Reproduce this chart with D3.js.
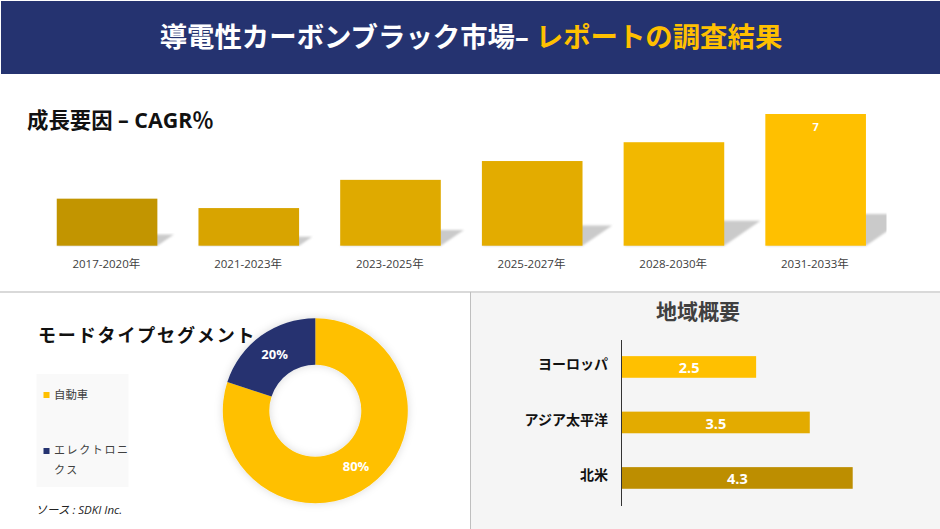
<!DOCTYPE html>
<html>
<head>
<meta charset="utf-8">
<script src="https://d3js.org/d3.v7.min.js"></script>
<style>
    body { margin: 0; background: #fff; overflow: hidden; }
    svg { display: block; }
    text { font-family: "Open Sans", "Noto Sans CJK JP", sans-serif; }
    .domain { shape-rendering: crispEdges; }
</style>
</head>
<body>
<svg id="canvas" width="940" height="529"></svg>
<script>
// top chart
const periods = ["2017-2020年", "2021-2023年", "2023-2025年", "2025-2027年", "2028-2030年", "2031-2033年"];
const cagr = [2.5, 2.0, 3.5, 4.5, 5.5, 7];
const cagrColors = ["#c29500", "#d8a400", "#dfaa00", "#e3ac00", "#f2b800", "#ffc000"];
const cagrLabels = ["", "", "", "", "", "7"];

// donut
const modes = ["自動車", "エレクトロニクス"];
const modeShare = [80, 20];
const modeColors = ["#ffc000", "#253370"];

// regions
const regions = ["ヨーロッパ", "アジア太平洋", "北米"];
const regionValues = [2.5, 3.5, 4.3];
const regionColors = ["#ffc000", "#e3ab00", "#bd8e00"];

var svg = d3.select("#canvas");
var defs = svg.append("defs");
defs.append("filter").attr("id", "soft").append("feGaussianBlur").attr("stdDeviation", 0.9);
defs.append("clipPath").attr("id", "topClip").append("rect")
    .attr("x", 0).attr("y", 80).attr("width", 886.5).attr("height", 200);
var glow = defs.append("filter").attr("id", "glow")
    .attr("x", "-15%").attr("y", "-15%").attr("width", "130%").attr("height", "130%");
glow.append("feDropShadow").attr("dx", 0).attr("dy", 0).attr("stdDeviation", 4)
    .attr("flood-color", "#000").attr("flood-opacity", 0.15);

// panels
svg.append("rect").attr("x", 471).attr("y", 292).attr("width", 469).attr("height", 237).attr("fill", "#f5f5f5");
svg.append("rect").attr("x", 0).attr("y", 291).attr("width", 940).attr("height", 2).attr("fill", "#d9d9d9");
svg.append("rect").attr("x", 470).attr("y", 292).attr("width", 1).attr("height", 237).attr("fill", "#bfbfbf");

// header
svg.append("rect").attr("x", 1).attr("y", 1).attr("width", 939).attr("height", 73).attr("fill", "#253370");
var head = svg.append("text").attr("x", 471).attr("y", 47)
    .attr("text-anchor", "middle").attr("font-size", 27.4).attr("font-weight", 700);
head.append("tspan").attr("fill", "#fff").text("導電性カーボンブラック市場– ");
head.append("tspan").attr("fill", "#ffc000").text("レポートの調査結果");

// growth bars
svg.append("text").attr("x", 27).attr("y", 128).attr("font-size", 21.4).attr("font-weight", 700)
    .attr("fill", "#111").text("成長要因 – CAGR％");

var x = d3.scaleBand().domain(periods).range([36.2, 886.5]).paddingInner(0.29).paddingOuter(0.145);
var y = d3.scaleLinear().domain([0, 7]).range([245.7, 114]);
var base = y(0);

function shadowPath(d, i) {
    var h = base - y(cagr[i]);
    var x0 = x(periods[i]);
    var x1 = x0 + x.bandwidth();
    var dx = h * 0.35;
    var dy = h * 0.24;
    return "M" + x0 + "," + base + "L" + x1 + "," + base +
        "L" + (x1 + dx) + "," + (base - dy) + "L" + (x0 + dx) + "," + (base - dy) + "Z";
}

svg.append("g").attr("clip-path", "url(#topClip)").selectAll("path").data(cagr).enter().append("path")
    .attr("d", shadowPath)
    .attr("fill", "#cacaca")
    .attr("filter", "url(#soft)");

svg.selectAll("rect.cagr").data(cagr).enter().append("rect")
    .attr("class", "cagr")
    .attr("x", function(d, i) { return x(periods[i]); })
    .attr("y", function(d) { return y(d); })
    .attr("width", x.bandwidth())
    .attr("height", function(d) { return base - y(d); })
    .attr("fill", function(d, i) { return cagrColors[i]; });

svg.selectAll("text.cagrLabel").data(cagr).enter().append("text")
    .attr("class", "cagrLabel")
    .attr("x", function(d, i) { return x(periods[i]) + x.bandwidth() / 2; })
    .attr("y", function(d) { return y(d) + 17; })
    .attr("text-anchor", "middle").attr("font-size", 11).attr("font-weight", 700).attr("fill", "#fff")
    .text(function(d, i) { return cagrLabels[i]; });

var xAxis = svg.append("g").attr("transform", "translate(-0.7," + base + ")")
    .call(d3.axisBottom(x).tickSize(0).tickPadding(12));
xAxis.select(".domain").remove();
xAxis.selectAll("text").attr("font-size", 11.5).attr("fill", "#404040").attr("dy", "0.88em")
    .style("font-family", '"Open Sans", "Noto Sans CJK JP", sans-serif');

// donut
var pie = d3.pie().sort(null)(modeShare);
var arc = d3.arc().innerRadius(46).outerRadius(92.5);
var donut = svg.append("g").attr("transform", "translate(315.3,410.7)");
donut.append("g").attr("filter", "url(#glow)").selectAll("path").data(pie).enter().append("path")
    .attr("d", arc)
    .attr("fill", function(d, i) { return modeColors[i]; });
donut.selectAll("text").data(pie).enter().append("text")
    .attr("transform", function(d) {
        var c = arc.centroid(d);
        return "translate(" + c[0] + "," + c[1] + ")";
    })
    .attr("dy", "0.35em").attr("text-anchor", "middle")
    .attr("font-size", 13).attr("font-weight", 700).attr("fill", "#fff")
    .text(function(d) { return d.data + "%"; });

svg.append("text").attr("x", 38).attr("y", 342).attr("font-size", 18).attr("font-weight", 700)
    .attr("letter-spacing", 1.85).attr("fill", "#111").text("モードタイプセグメント");

// legend
svg.append("rect").attr("x", 36.5).attr("y", 374).attr("width", 92).attr("height", 113).attr("fill", "#f9f9f9");
svg.append("rect").attr("x", 43.5).attr("y", 392).attr("width", 6).attr("height", 6).attr("fill", modeColors[0]);
svg.append("rect").attr("x", 43.5).attr("y", 448).attr("width", 6).attr("height", 6).attr("fill", modeColors[1]);
svg.append("text").attr("x", 54).attr("y", 399).attr("font-size", 11.4).attr("fill", "#404040").text(modes[0]);
svg.append("text").attr("x", 54).attr("y", 454).attr("font-size", 11).attr("letter-spacing", 1.6)
    .attr("fill", "#404040").text(modes[1].slice(0, 6));
svg.append("text").attr("x", 54).attr("y", 474).attr("font-size", 11).attr("letter-spacing", 1.6)
    .attr("fill", "#404040").text(modes[1].slice(6));

svg.append("text").attr("x", 35.5).attr("y", 514).attr("font-size", 11.5).attr("font-style", "italic")
    .attr("fill", "#222").text("ソース : SDKI Inc.");

// regions
svg.append("text").attr("x", 698).attr("y", 319).attr("text-anchor", "middle")
    .attr("font-size", 21).attr("font-weight", 700).attr("fill", "#404040").text("地域概要");

var rx = d3.scaleLinear().domain([0, 4.3]).range([622, 852.7]);
var ry = d3.scaleBand().domain(regions).range([339.2, 505.7]).paddingInner(0.61).paddingOuter(0.305);

svg.selectAll("rect.region").data(regionValues).enter().append("rect")
    .attr("class", "region")
    .attr("x", rx(0))
    .attr("y", function(d, i) { return ry(regions[i]); })
    .attr("width", function(d) { return rx(d) - rx(0); })
    .attr("height", ry.bandwidth())
    .attr("fill", function(d, i) { return regionColors[i]; });

svg.selectAll("text.regionValue").data(regionValues).enter().append("text")
    .attr("class", "regionValue")
    .attr("x", function(d) { return (rx(d) + rx(0)) / 2; })
    .attr("y", function(d, i) { return ry(regions[i]) + ry.bandwidth() / 2 + 1; })
    .attr("dy", "0.35em").attr("text-anchor", "middle")
    .attr("font-size", 14.5).attr("font-weight", 700).attr("fill", "#fff")
    .text(function(d) { return d; });

var yAxis = svg.append("g").attr("transform", "translate(621,0)")
    .call(d3.axisLeft(ry).tickSize(0).tickPadding(13));
yAxis.select(".domain").attr("stroke", "#333").attr("stroke-width", 1);
yAxis.selectAll("text").attr("font-size", 14).attr("font-weight", 700).attr("fill", "#111").attr("dy", "0.18em")
    .style("font-family", '"Open Sans", "Noto Sans CJK JP", sans-serif');
</script>
</body>
</html>
